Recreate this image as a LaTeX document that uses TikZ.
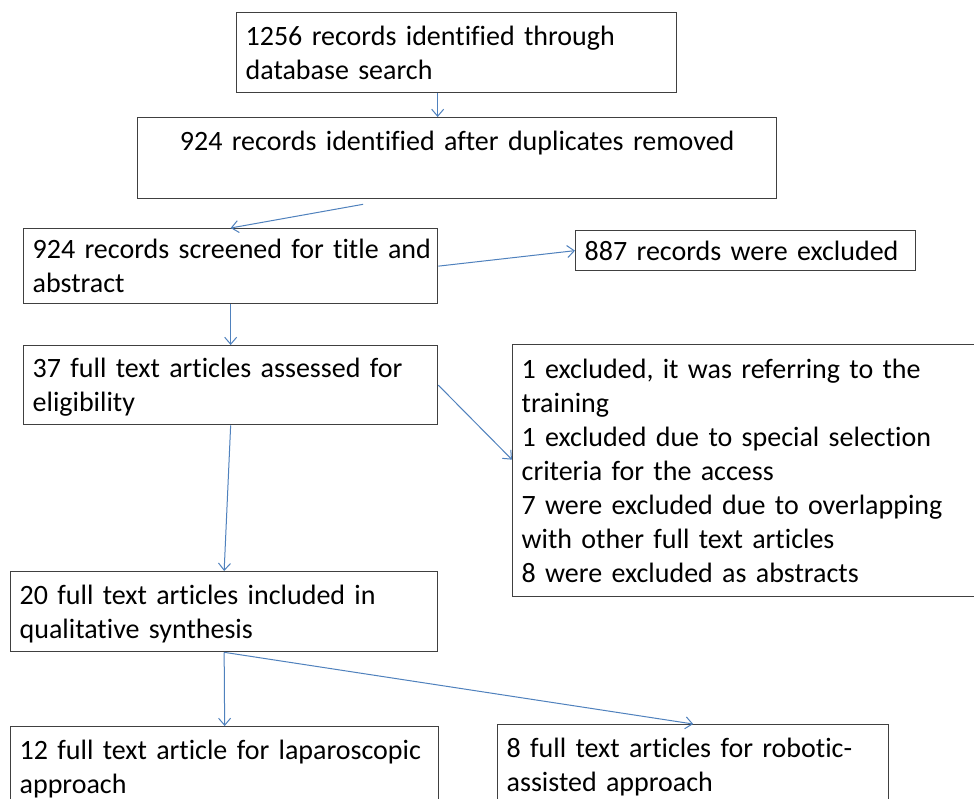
\documentclass[tikz,border=0pt]{standalone}
\usepackage{fontspec}
\setmainfont{Carlito}[Ligatures=NoCommon]
\usepackage{tikz}
\usetikzlibrary{positioning,calc,arrows.meta}
\definecolor{arrowblue}{RGB}{79,129,189}
\definecolor{boxgray}{RGB}{64,64,64}
\newcommand{\lnstrut}{\rule[-5pt]{0pt}{29pt}}

\begin{document}
\begin{tikzpicture}[x=1pt,y=-1pt,
    box/.style={draw=boxgray,line width=1.3pt,anchor=north west,align=left,
        inner xsep=9pt,inner ysep=0pt,font=\fontsize{28}{34}\selectfont},
    flow/.style={draw=arrowblue,line width=1pt,-{Straight Barb[length=7pt,width=12pt]}}]
        % Frame
        \path[use as bounding box,fill=white] (0,0) rectangle (974,799);

        % Boxes
        \node[box,text width=422pt,minimum height=80pt] (search) at (236,12)
            {\lnstrut 1256 records identified through\\\lnstrut database search};
        \node[box,align=center,text width=621pt,minimum height=81pt] (dedup) at (137,117)
            {\lnstrut 924 records identified after duplicates removed\\\lnstrut};
        \node[box,text width=396pt,minimum height=75pt] (screen) at (23,228)
            {\lnstrut\mbox{924 records screened for title and}\\\lnstrut abstract};
        \node[box,text width=322pt,minimum height=40pt] (excl) at (575,230)
            {\lnstrut 887 records were excluded};
        \node[box,text width=396pt,minimum height=79pt] (elig) at (23,345)
            {\lnstrut 37 full text articles assessed for\\\lnstrut eligibility};
        \node[box,text width=462pt,minimum height=252pt] (reasons) at (512,344)
            {\lnstrut 1 excluded, it was referring to the\\\lnstrut training\\
             \lnstrut 1 excluded due to special selection\\\lnstrut criteria for the access\\
             \lnstrut 7 were excluded due to overlapping\\\lnstrut with other full text articles\\
             \lnstrut 8 were excluded as abstracts};
        \node[box,text width=409pt,minimum height=80pt] (incl) at (10,571)
            {\lnstrut 20 full text articles included in\\\lnstrut qualitative synthesis};
        \node[box,text width=410pt,minimum height=80pt] (lap) at (10,726)
            {\lnstrut\mbox{12 full text article for laparoscopic}\\\lnstrut approach};
        \node[box,text width=373pt,minimum height=80pt] (rob) at (497,724)
            {\lnstrut 8 full text articles for robotic-\\\lnstrut assisted approach};

        % Arrows
        \draw[flow] ([xshift=-19pt]search.south) -- ([xshift=-19pt]search.south |- dedup.north);
        \draw[flow] ([xshift=-94pt,yshift=-5pt]dedup.south) -- (screen.north);
        \draw[flow] (screen.east) -- (excl.west);
        \draw[flow] (screen.south) -- (elig.north);
        \draw[flow] (elig.east) -- ([yshift=11pt]reasons.west);
        \draw[flow] (elig.south) -- (incl.north);
        \draw[flow] (incl.south) -- (lap.north);
        \draw[flow] (incl.south) -- (rob.north);
\end{tikzpicture}
\end{document}
